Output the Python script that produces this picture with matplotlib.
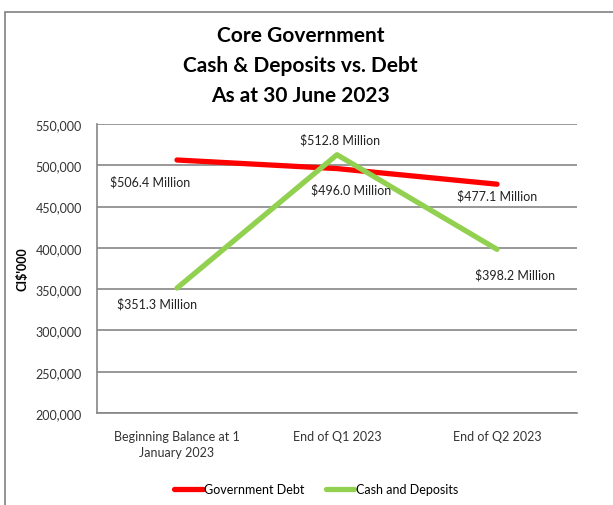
import matplotlib
matplotlib.use("Agg")
import matplotlib.pyplot as plt
from matplotlib.patches import Rectangle

# --- DATA ---
categories = ["Beginning Balance at 1\nJanuary 2023", "End of Q1 2023", "End of Q2 2023"]
debt = [506400, 496000, 477100]
cash = [351300, 512800, 398200]
debt_labels = ["$506.4 Million", "$496.0 Million", "$477.1 Million"]
cash_labels = ["$351.3 Million", "$512.8 Million", "$398.2 Million"]
yticks = [200000, 250000, 300000, 350000, 400000, 450000, 500000, 550000]

# label offsets in points (Excel-style placement)
debt_off = [(-19, -15), (10, -15), (0, -8)]
cash_off = [(-14, -11), (2, 11), (13, -18)]

plt.rcParams['font.family'] = ['Lato', 'DejaVu Sans']

W, H = 613, 506
fig = plt.figure(figsize=(W / 100, H / 100), dpi=100)
ax = fig.add_axes([97 / W, 1 - 414 / H, 480 / W, 289 / H])

# outer chart border (cut off at right/bottom like the screenshot)
fig.patches.append(Rectangle((5 / W, -0.1), 1.2, 1.1 - 13 / H, transform=fig.transFigure,
                             fill=False, edgecolor="#808080", linewidth=1.2))

x = range(len(categories))
ax.plot(x, debt, color="#FF0000", linewidth=3.8, solid_capstyle="round", label="Government Debt", zorder=3)
ax.plot(x, cash, color="#92D050", linewidth=3.8, solid_capstyle="round", label="Cash and Deposits", zorder=4)

for i in x:
    ax.annotate(debt_labels[i], (i, debt[i]), xytext=debt_off[i], textcoords="offset points",
                ha="center", va="center", fontsize=9, color="#222222", zorder=5)
    ax.annotate(cash_labels[i], (i, cash[i]), xytext=cash_off[i], textcoords="offset points",
                ha="center", va="center", fontsize=9, color="#222222", zorder=5)

ax.set_xlim(-0.5, 2.5)
ax.set_ylim(200000, 550000)
ax.set_yticks(yticks)
ax.set_yticklabels([f"{v:,}" for v in yticks], fontsize=9, color="#333333")
ax.set_xticks(list(x))
ax.set_xticklabels(categories, fontsize=9, color="#333333", linespacing=1.45)
ax.tick_params(length=0)
ax.tick_params(axis="x", pad=12)
ax.tick_params(axis="y", pad=11)
ax.yaxis.grid(True, color="#868686", linewidth=1.2)
ax.set_axisbelow(True)
for s in ["top", "right"]:
    ax.spines[s].set_visible(False)
for s in ["left", "bottom"]:
    ax.spines[s].set_color("#868686")
    ax.spines[s].set_linewidth(1.2)

ax.set_ylabel("CI$'000", fontsize=9, fontweight="bold")
ax.yaxis.set_label_coords(-(97 - 28) / 480, 0.5)

fig.text(0.49, 1 - 66 / H, "Core Government\nCash & Deposits vs. Debt\nAs at 30 June 2023",
         ha="center", va="center", fontsize=15, fontweight="bold", linespacing=1.62)

fig.legend(loc="center", bbox_to_anchor=(316 / W, 1 - 490 / H), ncol=2, frameon=False,
           fontsize=9, handlelength=2.3, handletextpad=0.1, columnspacing=1.7)

fig.savefig("out.png", dpi=100)
